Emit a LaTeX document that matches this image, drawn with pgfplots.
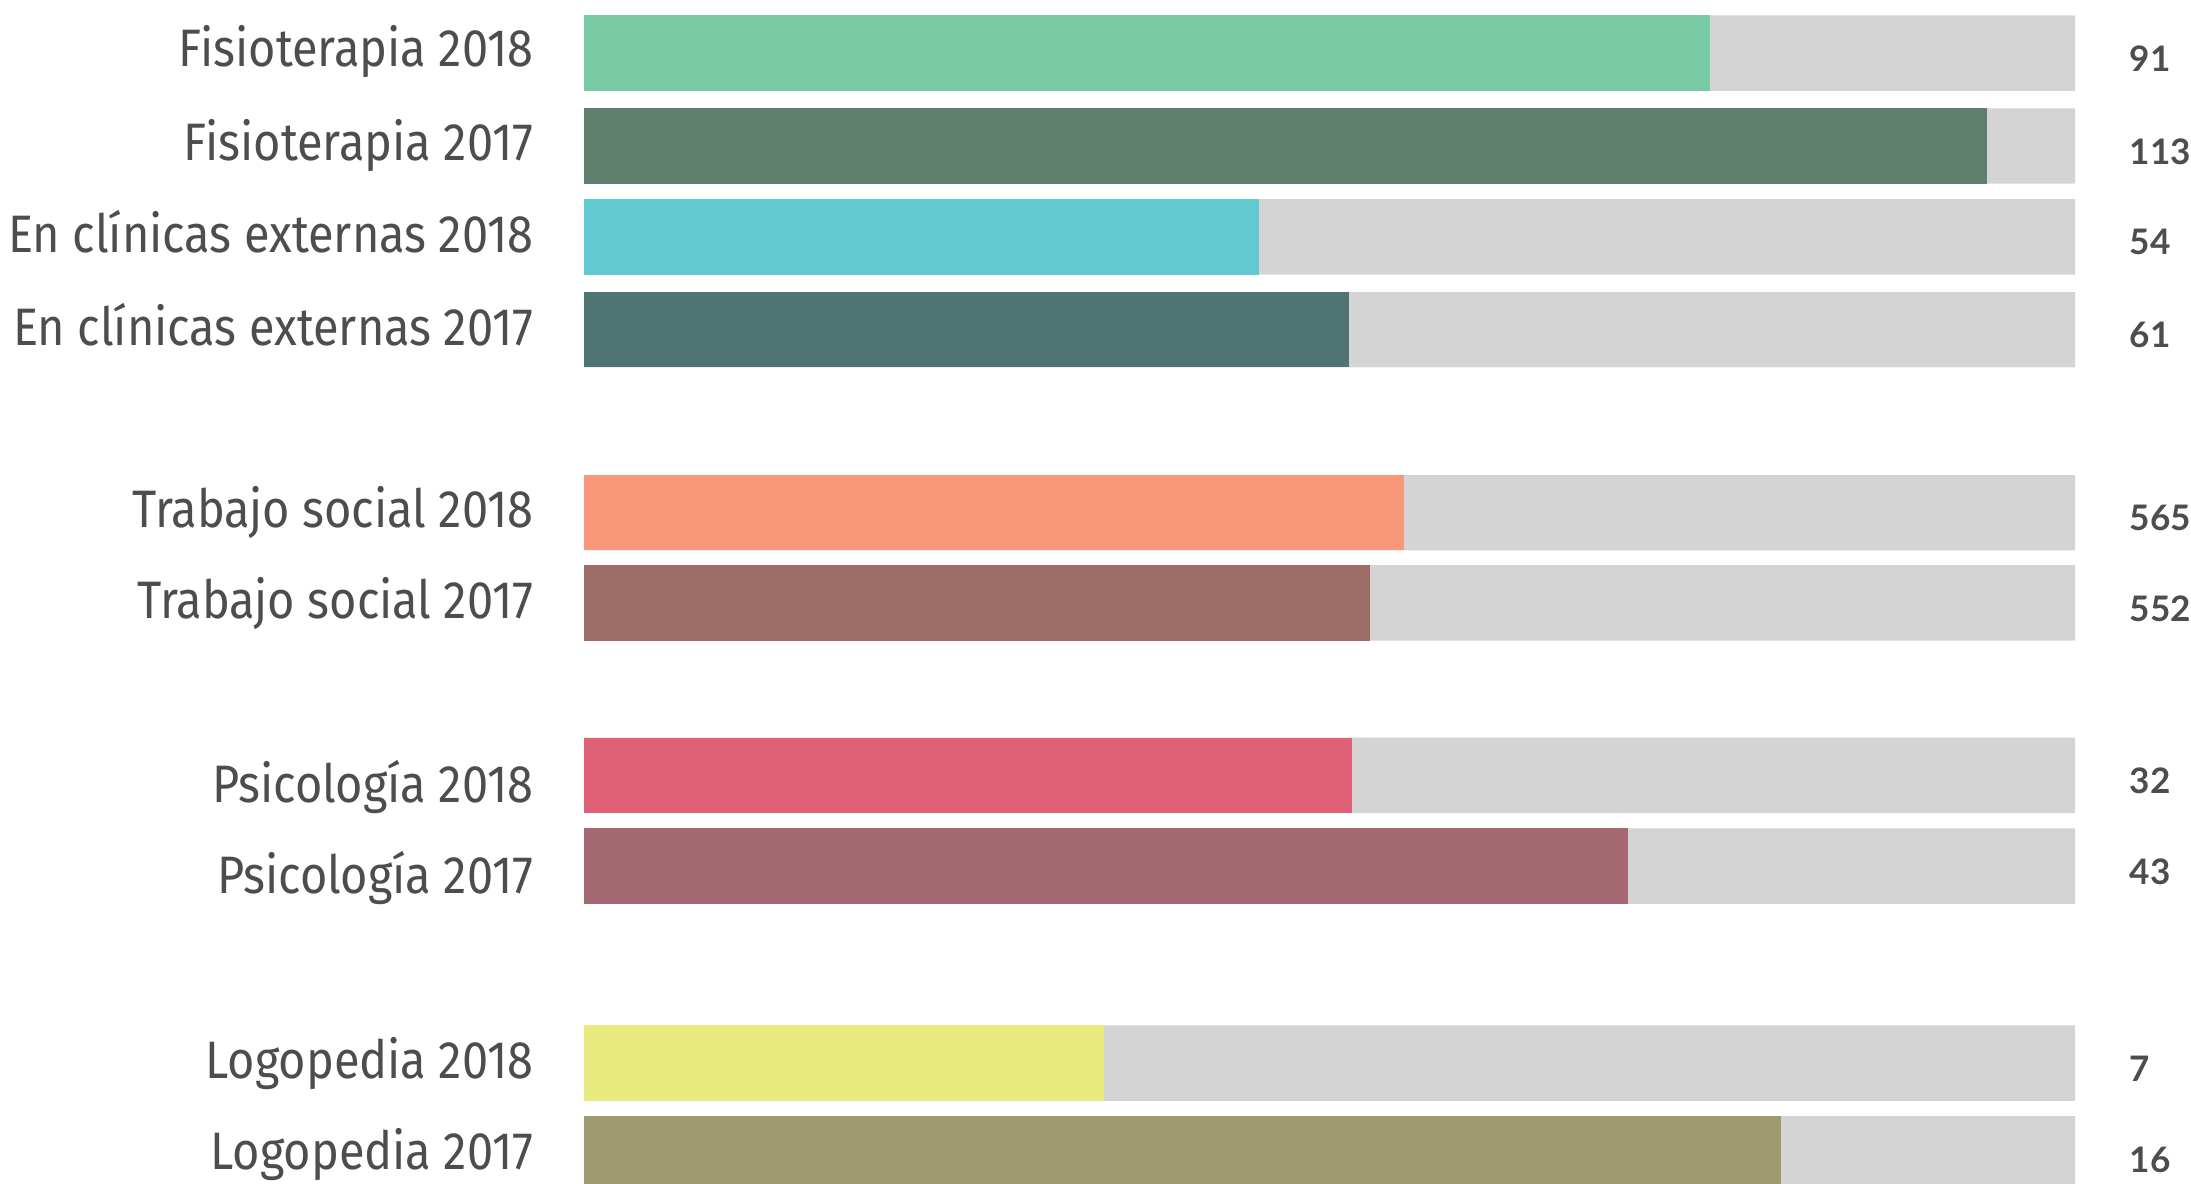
\documentclass[border=0pt]{standalone}
\usepackage{fontspec}
\setmainfont{Fira Sans}[FakeStretch=0.89]
\newfontfamily\lato{Lato}
\usepackage{pgfplots}
\pgfplotsset{compat=1.18}
\usepackage{pgfplotstable}

\definecolor{txt}{HTML}{4D4D4D}
\definecolor{gbar}{HTML}{D4D4D4}
\definecolor{c1}{HTML}{79CBA5}
\definecolor{c2}{HTML}{5E7E6E}
\definecolor{c3}{HTML}{63C9D0}
\definecolor{c4}{HTML}{507474}
\definecolor{c5}{HTML}{F8977A}
\definecolor{c6}{HTML}{9C6E67}
\definecolor{c7}{HTML}{E06075}
\definecolor{c8}{HTML}{A46873}
\definecolor{c9}{HTML}{E8EA7E}
\definecolor{c10}{HTML}{9E9A6E}

% y: bar centre (px from top), frac: filled share of the grey bar, val: printed value
\pgfplotstableread{
y      frac   full val
53.1   0.755  1    91
146.0  0.941  1    113
236.8  0.453  1    54
329.7  0.513  1    61
512.7  0.550  1    565
602.8  0.527  1    552
775.3  0.515  1    32
866.1  0.700  1    43
1063.1 0.349  1    7
1153.9 0.803  1    16
}\datatable

\begin{document}
\begin{tikzpicture}
\begin{axis}[
  name=ax,
  scale only axis, width=149.1mm, height=118.3mm,
  xmin=0, xmax=1, ymin=0, ymax=1183, y dir=reverse,
  axis line style={draw=none}, major tick length=0pt,
  xtick=\empty,
  ytick={52,146,232,325,513,604,787,878,1064,1155},
  yticklabels={Fisioterapia 2018,Fisioterapia 2017,En clínicas externas 2018,En clínicas externas 2017,Trabajo social 2018,Trabajo social 2017,Psicología 2018,Psicología 2017,Logopedia 2018,Logopedia 2017},
  yticklabel style={font=\fontsize{15}{15}\selectfont, text=txt, anchor=east, inner sep=0pt, xshift=-5.0mm},
  xbar, bar width=7.54mm, bar shift=0pt,
  clip=false,
]
\addplot[fill=gbar, draw=none, nodes near coords, point meta=explicit symbolic,
  nodes near coords style={anchor=west, xshift=5.4mm, yshift=-0.55mm, inner sep=0pt, font=\lato\bfseries\fontsize{10}{10}\selectfont, text=txt}]
  table[x=full, y=y, meta=val] {\datatable};
\addplot[fill=c1, draw=none] coordinates {(0.755,53.1)};
\addplot[fill=c2, draw=none] coordinates {(0.941,146.0)};
\addplot[fill=c3, draw=none] coordinates {(0.453,236.8)};
\addplot[fill=c4, draw=none] coordinates {(0.513,329.7)};
\addplot[fill=c5, draw=none] coordinates {(0.550,512.7)};
\addplot[fill=c6, draw=none] coordinates {(0.527,602.8)};
\addplot[fill=c7, draw=none] coordinates {(0.515,775.3)};
\addplot[fill=c8, draw=none] coordinates {(0.700,866.1)};
\addplot[fill=c9, draw=none] coordinates {(0.349,1063.1)};
\addplot[fill=c10, draw=none] coordinates {(0.803,1153.9)};
\end{axis}
\pgfresetboundingbox
\path[use as bounding box] ([xshift=-58.4mm]ax.south west) rectangle ([xshift=11.6mm]ax.north east);
\end{tikzpicture}
\end{document}
